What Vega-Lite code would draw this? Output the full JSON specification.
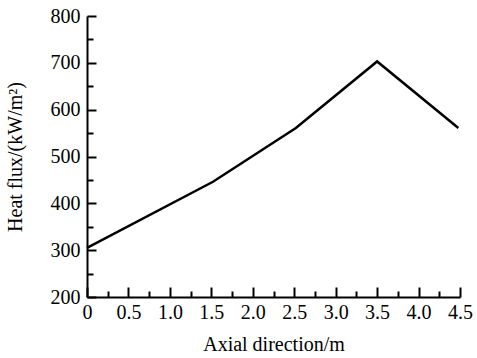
{
  "$schema": "https://vega.github.io/schema/vega-lite/v6.json",
  "width": 373,
  "height": 281,
  "autosize": "none",
  "padding": {"left": 87, "top": 16, "right": 17, "bottom": 61},
  "background": "white",
  "config": {
    "view": {"stroke": null},
    "font": "Liberation Serif",
    "axis": {
      "domainColor": "black",
      "domainWidth": 2,
      "tickColor": "black",
      "tickWidth": 2,
      "grid": false,
      "labelFont": "Liberation Serif",
      "titleFont": "Liberation Serif",
      "labelFontSize": 20,
      "titleFontSize": 20,
      "labelColor": "black",
      "titleColor": "black",
      "titleFontWeight": "normal"
    }
  },
  "data": {
    "values": [
      {"x": 0, "y": 305},
      {"x": 1.52, "y": 446},
      {"x": 2.52, "y": 561},
      {"x": 3.5, "y": 703},
      {"x": 4.48, "y": 561}
    ]
  },
  "layer": [
    {
      "mark": {"type": "line", "color": "black", "strokeWidth": 2.5},
      "encoding": {
        "x": {
          "field": "x", "type": "quantitative",
          "scale": {"domain": [0, 4.5], "nice": false, "zero": false},
          "axis": {
            "orient": "bottom",
            "values": [0, 0.5, 1, 1.5, 2, 2.5, 3, 3.5, 4, 4.5],
            "format": ".1f",
            "labelExpr": "datum.value === 0 ? '0' : datum.label",
            "tickSize": -10,
            "labelPadding": 15,
            "title": "Axial direction/m",
            "titlePadding": 12,
            "labelFlush": false,
            "labelOverlap": false
          }
        },
        "y": {
          "field": "y", "type": "quantitative",
          "scale": {"domain": [200, 800], "nice": false, "zero": false},
          "axis": {
            "orient": "left",
            "values": [200, 300, 400, 500, 600, 700, 800],
            "tickSize": -9,
            "labelPadding": 16,
            "title": "Heat flux/(kW/m²)",
            "titlePadding": 25,
            "labelFlush": false,
            "labelOverlap": false
          }
        }
      }
    },
    {
      "mark": {"type": "line", "opacity": 0},
      "encoding": {
        "x": {
          "field": "x", "type": "quantitative",
          "axis": {
            "orient": "bottom",
            "values": [0.25, 0.75, 1.25, 1.75, 2.25, 2.75, 3.25, 3.75, 4.25],
            "tickSize": -6,
            "labels": false,
            "domain": false,
            "title": null
          }
        },
        "y": {
          "field": "y", "type": "quantitative",
          "axis": {
            "orient": "left",
            "values": [250, 350, 450, 550, 650, 750],
            "tickSize": -6,
            "labels": false,
            "domain": false,
            "title": null
          }
        }
      }
    }
  ],
  "resolve": {"axis": {"x": "independent", "y": "independent"}}
}
